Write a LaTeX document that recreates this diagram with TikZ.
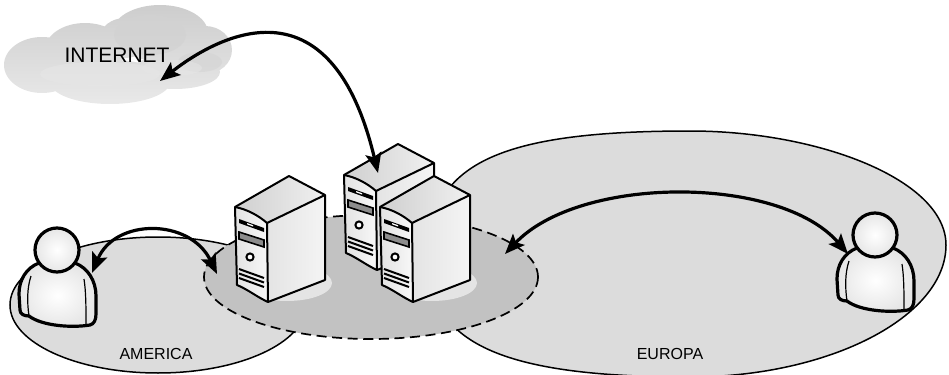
\documentclass[tikz,border=0pt]{standalone}
\usepackage{fontspec}
\setmainfont{Liberation Sans}
\usetikzlibrary{arrows.meta}

\definecolor{regionfill}{HTML}{DCDCDC}
\definecolor{zonefill}{HTML}{C2C2C2}
\definecolor{padfill}{HTML}{E4E4E4}
\definecolor{cloudTop}{HTML}{CDCDCD}
\definecolor{cloudBottom}{HTML}{E9E9E9}
\definecolor{cloudHi}{HTML}{E6E6E6}
\definecolor{cloudMid}{HTML}{D2D2D2}
\definecolor{caseTopA}{HTML}{CFCFCF}
\definecolor{caseTopB}{HTML}{F0F0F0}
\definecolor{caseFrontA}{HTML}{E2E2E2}
\definecolor{caseFrontB}{HTML}{F8F8F8}
\definecolor{caseSideA}{HTML}{E4E4E4}
\definecolor{caseSideB}{HTML}{F4F4F4}
\definecolor{slotfill}{HTML}{8C8C8C}
\definecolor{skin}{HTML}{E6E6E6}

\tikzset{
  region/.style={fill=regionfill, draw=black, line width=0.75pt},
  zone/.style={fill=zonefill, draw=black, line width=0.85pt, dash pattern=on 5pt off 2.8pt},
  tip/.style={Stealth[length=10pt,width=8pt,inset=2pt]},
  link/.style={line width=1.6pt, {Stealth[length=10pt,width=8pt,inset=2pt]}-{Stealth[length=10pt,width=8pt,inset=2pt]}},
  areaname/.style={font=\fontsize{8}{10}\selectfont, inner sep=0pt},
  caseline/.style={draw=black, line width=1pt, line join=round},
  % tower server; origin = top-left corner of the front panel
  pics/server/.style={code={
    \shade[left color=caseTopA, right color=caseTopB]
      (0,0) -- (54,-31) -- (90,-12) -- (32,16) .. controls (23,8) and (11,2) .. (0,0) -- cycle;
    \shade[left color=caseSideA, right color=caseSideB]
      (32,16) -- (90,-12) -- (90,73) -- (33,95) -- cycle;
    \shade[left color=caseFrontA, right color=caseFrontB]
      (0,0) .. controls (11,2) and (23,8) .. (32,16) -- (33,95)
      .. controls (22,90) and (12,82) .. (2,78) -- cycle;
    \path[caseline]
      (0,0) -- (54,-31) -- (90,-12) -- (90,73) -- (33,95)
      .. controls (22,90) and (12,82) .. (2,78) -- cycle;
    \path[caseline] (0,0) .. controls (11,2) and (23,8) .. (32,16) -- (90,-12);
    \path[caseline] (32,16) -- (33,95);
    % drive bay and slot
    \fill[black] (4,12) -- (29,21) -- (29,25) -- (4,16) -- cycle;
    \fill[white] (12,16) -- (18,18.2) -- (18,19.5) -- (12,17.3) -- cycle;
    \filldraw[fill=slotfill, draw=black, line width=0.8pt]
      (4,25) -- (29,33) -- (29,40) -- (4,32) -- cycle;
    % power button
    \filldraw[fill=white, draw=black, line width=1pt] (15,50) circle [radius=3.6];
    % vents
    \foreach \v in {0,4.5,9}
      \draw[line width=1pt] (4,62+\v) -- (29,71+\v);
  }},
  % person icon; origin = centre of the head
  pics/user/.style={code={
    \shadedraw[inner color=white, outer color=skin, draw=black, line width=1.6pt, line join=round]
      (-18,13) .. controls (-31,18) and (-38,30) .. (-38,44) -- (-37,60)
      .. controls (-37,64) and (-33,66) .. (-28,66)
      .. controls (-15,76) and (15,78) .. (33,75)
      .. controls (37,74) and (39,70) .. (39,64) -- (39,46)
      .. controls (39,31) and (31,18) .. (18,13) -- cycle;
    \draw[line width=0.6pt] (-26,26) .. controls (-30,38) and (-30,52) .. (-28,66);
    \draw[line width=0.6pt] (27,29) .. controls (29,42) and (29,56) .. (29,76);
    \shadedraw[inner color=white, outer color=skin, draw=black, line width=1.6pt]
      (0,0) circle [radius=22];
  }},
}

\begin{document}
\begin{tikzpicture}[x=0.5pt,y=-0.5pt]
\useasboundingbox (0,0) rectangle (949,375);

% coverage areas
\path[region] (690,131) .. controls (819,131) and (946,180) .. (946,245)
  .. controls (946,317) and (829,377) .. (690,377)
  .. controls (501,377) and (428,343) .. (428,258)
  .. controls (428,164) and (498,131) .. (690,131) -- cycle;
\path[region] (158,305) ellipse [x radius=148, y radius=68];

% data centre zone
\path[zone] (371,277) ellipse [x radius=167, y radius=62];
\fill[padfill] (287,283) ellipse [x radius=45, y radius=18];
\fill[padfill] (432,283) ellipse [x radius=45, y radius=18];

% servers
\pic (srvB) at (344,175) {server};
\pic (srvA) at (235,207) {server};
\pic (srvC) at (380,207) {server};

% users
\pic (userAm) at (57,250) {user};
\pic (userEu) at (875,235) {user};

% internet cloud
\shade[top color=cloudTop, bottom color=cloudBottom]
  (42,65) ellipse [x radius=38, y radius=28]
  (85,50) ellipse [x radius=40, y radius=27]
  (125,38) ellipse [x radius=25, y radius=20]
  (160,33) ellipse [x radius=48, y radius=28]
  (205,50) ellipse [x radius=27, y radius=24]
  (110,82) ellipse [x radius=60, y radius=22]
  (175,72) ellipse [x radius=45, y radius=17];
\fill[cloudMid, opacity=0.7] (150,35) ellipse [x radius=36, y radius=20];
\fill[cloudMid, opacity=0.5] (200,62) ellipse [x radius=22, y radius=10];
\fill[cloudHi, opacity=0.6] (100,74) ellipse [x radius=60, y radius=12];
\fill[cloudHi, opacity=0.5] (172,68) ellipse [x radius=30, y radius=8];

% labels
\node[font=\fontsize{10.5}{12}\selectfont, inner sep=0pt] (inet) at (117,55) {INTERNET};
\node[areaname] (america) at (156,354) {AMERICA};
\node[areaname] (europa) at (670,354) {EUROPA};

% links
\coordinate (cloudTip) at (160,81);
\coordinate (srvTip) at (378,173);
\coordinate (amUserTip) at (92,273);
\coordinate (zoneTipW) at (217,274);
\coordinate (zoneTipE) at (505,254);
\coordinate (euUserTip) at (848,254);

\draw[link] (cloudTip) .. controls (215,38) and (330,-28) .. (srvTip);
\draw[link] (amUserTip) .. controls (115,218) and (190,218) .. (zoneTipW);
\draw[link] (zoneTipE) .. controls (580,175) and (780,175) .. (euUserTip);
\end{tikzpicture}
\end{document}
